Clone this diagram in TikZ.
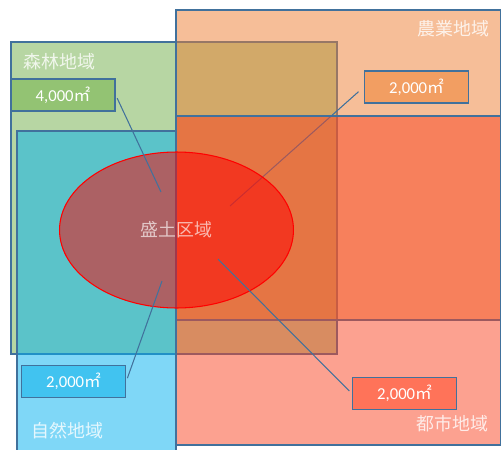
\documentclass[tikz,border=0pt]{standalone}
\usepackage{fontspec}
\setmainfont{Carlito}
\newfontfamily\jpfont{Noto Sans CJK JP}
\usetikzlibrary{shapes.geometric, positioning}

\definecolor{forestc}{HTML}{70AD47}
\definecolor{naturec}{HTML}{00B0F0}
\definecolor{farmc}{HTML}{ED7D31}
\definecolor{cityc}{RGB}{249,67,33}
\definecolor{edgec}{HTML}{41719C}

\begin{document}
\begin{tikzpicture}[x=0.02cm, y=-0.02cm,
    zone/.style = {draw=edgec, line width=0.6pt, fill opacity=0.5},
    zonename/.style = {inner sep=0pt, text=white, text opacity=0.8,
      font=\jpfont\fontsize{10.2}{12}\selectfont},
    areabox/.style = {draw=edgec, line width=0.8pt, inner sep=0pt,
      minimum width=2.08cm, minimum height=0.64cm, text=white,
      font=\fontsize{9.5}{11}\selectfont},
    lead/.style = {draw=edgec, line width=0.6pt, shorten <=2pt}]
  \useasboundingbox (0,0) rectangle (501,450);

  % zones
  \fill [zone, fill=forestc] (11,42) rectangle (337,354);
  \fill [zone, fill=naturec] (17,131) rectangle (176,460);
  \fill [zone, fill=farmc] (176,10) rectangle (500.5,320);

  \coordinate (farmend) at (230,206);
  \node (farmbox) [areabox, fill={rgb,255:red,242;green,158;blue,98}] at (416.5,87)
    {2,000{\jpfont ㎡}};
  \draw [lead, shorten <=4pt] (farmbox.west) -- (farmend);

  \fill [zone, fill=cityc] (176,116) rectangle (500.5,445);

  % fill area
  \node (fill) [ellipse, draw=red, line width=0.6pt, fill=red, fill opacity=0.5,
    text=white, text opacity=0.65, minimum width=4.68cm, minimum height=3.12cm,
    font=\jpfont\fontsize{10.2}{12}\selectfont] at (176.5,230) {盛土区域};

  \coordinate (forestend) at (161,192);
  \coordinate (natureend) at (162,281);
  \coordinate (cityend) at (218,259);

  \node (forestbox) [areabox, fill={rgb,255:red,147;green,195;blue,115}] at (63,95)
    {4,000{\jpfont ㎡}};
  \node (naturebox) [areabox, fill={rgb,255:red,65;green,195;blue,240}] at (73.5,381.5)
    {2,000{\jpfont ㎡}};
  \node (citybox) [areabox, fill={rgb,255:red,255;green,115;blue,89}] at (404.5,393.5)
    {2,000{\jpfont ㎡}};

  \path [lead]
    (forestbox.east) edge (forestend)
    (naturebox.east) edge (natureend)
    (citybox.west) edge (cityend);

  % zone names
  \node (forestname) [zonename, anchor=west] at (23,62) {森林地域};
  \node (farmname) [zonename, anchor=east] at (490,29) {農業地域};
  \node (naturename) [zonename, anchor=west] at (31,431) {自然地域};
  \node (cityname) [zonename, anchor=east] at (489,424) {都市地域};
\end{tikzpicture}
\end{document}
